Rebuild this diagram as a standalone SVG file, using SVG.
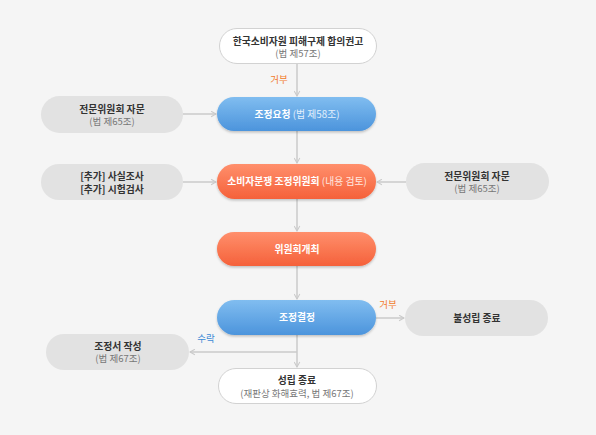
<svg xmlns="http://www.w3.org/2000/svg" width="596" height="435" viewBox="0 0 596 435">
<style>
text{font-family:"Noto Sans CJK KR","Noto Sans",sans-serif;font-size:9.8px;text-anchor:middle}
.t{fill:#333;font-weight:bold}
.s{fill:#777;font-size:9.5px}
.w{fill:#fff;font-weight:bold}
.wl{fill:#ffe9e0;font-weight:normal}
.wb{fill:#e3f0fc;font-weight:normal}
.gray{fill:#e2e2e2}
.white{fill:#fff;stroke:#d2d2d2;stroke-width:1}
.ln{stroke:#cacaca;stroke-width:1.5;fill:none}
.lbo{fill:#f27a2a;font-size:9.5px}
.lbb{fill:#3c8ad6;font-size:9.5px}
</style>
<defs>
<linearGradient id="gb" x1="0" y1="0" x2="0" y2="1"><stop offset="0" stop-color="#80bdf0"/><stop offset="1" stop-color="#4c94dc"/></linearGradient>
<linearGradient id="go" x1="0" y1="0" x2="0" y2="1"><stop offset="0" stop-color="#ff8f6c"/><stop offset="1" stop-color="#f5613a"/></linearGradient>
<filter id="sh" x="-10%" y="-20%" width="120%" height="150%"><feDropShadow dx="0" dy="1.5" stdDeviation="1.2" flood-color="#000" flood-opacity="0.22"/></filter>
<marker id="ch" viewBox="0 0 10 10" refX="9" refY="5" markerWidth="7" markerHeight="7" orient="auto" markerUnits="userSpaceOnUse"><path d="M2,1 L9,5 L2,9" fill="none" stroke="#cacaca" stroke-width="1.5"/></marker>
</defs>
<rect width="596" height="435" fill="#f5f5f5"/>
<g id="connectors">
<line class="ln" x1="297" y1="63" x2="297" y2="96" marker-end="url(#ch)"/>
<text class="lbo" x="279" y="83">거부</text>
<line class="ln" x1="183" y1="114" x2="216" y2="114" marker-end="url(#ch)"/>
<line class="ln" x1="297" y1="131" x2="297" y2="163" marker-end="url(#ch)"/>
<line class="ln" x1="183" y1="182" x2="216" y2="182" marker-end="url(#ch)"/>
<line class="ln" x1="406" y1="182" x2="377" y2="182" marker-end="url(#ch)"/>
<line class="ln" x1="297" y1="199" x2="297" y2="231" marker-end="url(#ch)"/>
<line class="ln" x1="297" y1="266" x2="297" y2="299" marker-end="url(#ch)"/>
<line class="ln" x1="376" y1="318" x2="404" y2="318" marker-end="url(#ch)"/>
<text class="lbo" x="388" y="308">거부</text>
<line class="ln" x1="297" y1="335" x2="297" y2="367" marker-end="url(#ch)"/>
<line class="ln" x1="297" y1="352" x2="190" y2="352" marker-end="url(#ch)"/>
<text class="lbb" x="206" y="342">수락</text>
</g>
<g id="n1">
<rect class="white" x="219.5" y="28.5" width="157" height="35" rx="17.5"/>
<text class="t" x="298" y="44.5">한국소비자원 피해구제 합의권고</text>
<text class="s" x="298" y="57">(법 제57조)</text>
</g>
<g id="n2">
<rect x="217" y="97" width="159" height="34" rx="17" fill="url(#gb)" filter="url(#sh)"/>
<text class="w" x="297" y="117.5">조정요청 <tspan class="wb">(법 제58조)</tspan></text>
</g>
<g id="n3">
<rect class="gray" x="41" y="96" width="142" height="37" rx="18.5"/>
<text class="t" x="112" y="112.5">전문위원회 자문</text>
<text class="s" x="112" y="125">(법 제65조)</text>
</g>
<g id="n4">
<rect class="gray" x="41" y="164" width="142" height="36" rx="18"/>
<text class="t" x="112" y="180">[추가] 사실조사</text>
<text class="t" x="112" y="192.5">[추가] 시험검사</text>
</g>
<g id="n5">
<rect x="217" y="164" width="159" height="35" rx="17.5" fill="url(#go)" filter="url(#sh)"/>
<text class="w" x="297" y="185">소비자분쟁 조정위원회 <tspan class="wl">(내용 검토)</tspan></text>
</g>
<g id="n6">
<rect class="gray" x="406" y="163" width="143" height="37" rx="18.5"/>
<text class="t" x="477" y="179.5">전문위원회 자문</text>
<text class="s" x="477" y="192">(법 제65조)</text>
</g>
<g id="n7">
<rect x="217" y="232" width="159" height="34" rx="17" fill="url(#go)" filter="url(#sh)"/>
<text class="w" x="297" y="252.5">위원회개최</text>
</g>
<g id="n8">
<rect x="217" y="300" width="159" height="35" rx="17.5" fill="url(#gb)" filter="url(#sh)"/>
<text class="w" x="297" y="321">조정결정</text>
</g>
<g id="n9">
<rect class="gray" x="405" y="300" width="143" height="36" rx="18"/>
<text class="t" x="477" y="321.5">불성립 종료</text>
</g>
<g id="n10">
<rect class="gray" x="46" y="334" width="143" height="36" rx="18"/>
<text class="t" x="118" y="349.5">조정서 작성</text>
<text class="s" x="118" y="362">(법 제67조)</text>
</g>
<g id="n11">
<rect class="white" x="218.5" y="368.5" width="158" height="35" rx="17.5"/>
<text class="t" x="297" y="383.5">성립 종료</text>
<text class="s" x="297" y="396.5">(재판상 화해효력, 법 제67조)</text>
</g>
</svg>
